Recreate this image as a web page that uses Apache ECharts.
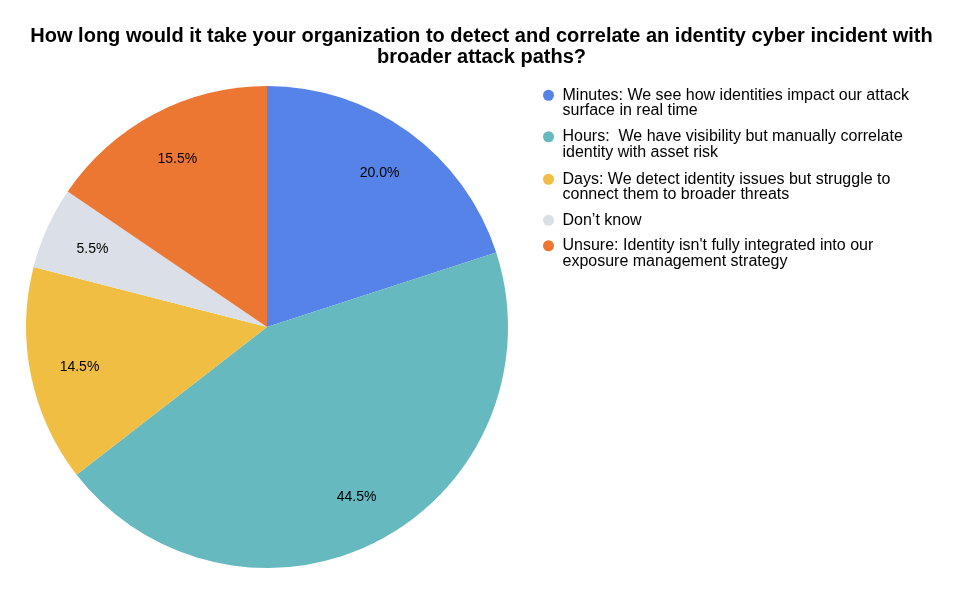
<!DOCTYPE html>
<html>
<head>
<meta charset="utf-8">
<script src="https://cdn.jsdelivr.net/npm/echarts@6/dist/echarts.min.js"></script>
<style>
  html, body { margin: 0; padding: 0; background: #fff; }
  #chart { width: 963px; height: 589px; }
</style>
</head>
<body>
<div id="chart"></div>
<script>
var titleText = 'How long would it take your organization to detect and correlate an identity cyber incident with\nbroader attack paths?';

var categories = [
    'Minutes: We see how identities impact our attack\nsurface in real time',
    'Hours:  We have visibility but manually correlate\nidentity with asset risk',
    'Days: We detect identity issues but struggle to\nconnect them to broader threats',
    'Don\u2019t know',
    'Unsure: Identity isn\'t fully integrated into our\nexposure management strategy'
];
var shares = [20.0, 44.5, 14.5, 5.5, 15.5];
var colors = ['#5583e8', '#67b9c0', '#f0be42', '#dbdfe7', '#ec7733'];

// vertical centre of the first text line of each legend entry, px
var legendRows = [95, 136.5, 179, 220, 245.5];

var font = '"Liberation Sans", Arial, sans-serif';
var LH = 15.5;

var pieData = categories.map(function (name, i) {
    return { name: name, value: shares[i], itemStyle: { color: colors[i] } };
});

// one legend per entry so the dot lines up with the first text line
var legends = categories.map(function (name, i) {
    var twoLines = name.indexOf('\n') >= 0;
    return {
        orient: 'vertical',
        left: 543,
        top: twoLines ? legendRows[i] - LH * 1.5 : legendRows[i] - LH / 2,
        padding: 0,
        icon: 'circle',
        itemWidth: 18,
        itemHeight: 11,
        itemGap: 0,
        selectedMode: false,
        data: [name],
        formatter: function (n) {
            // blank first line keeps the marker level with line one
            return n.indexOf('\n') >= 0 ? '\u00a0\n' + n : n;
        },
        textStyle: {
            fontFamily: font,
            fontSize: 16,
            lineHeight: LH,
            color: '#000'
        }
    };
});

var chart = echarts.init(document.getElementById('chart'));
chart.setOption({
    backgroundColor: '#fff',
    animation: false,
    title: {
        text: titleText,
        left: 'center',
        top: 21,
        textStyle: {
            fontFamily: font,
            fontSize: 20,
            fontWeight: 'bold',
            lineHeight: 21,
            color: '#000'
        }
    },
    legend: legends,
    series: [
        {
            type: 'pie',
            center: [267, 327],
            radius: [0, 241],
            startAngle: 90,
            clockwise: true,
            label: { show: false },
            labelLine: { show: false },
            emphasis: { disabled: true },
            data: pieData
        },
        {
            // label ring only: puts the % labels at ~0.78 of the radius
            type: 'pie',
            center: [267, 328],
            radius: [136, 241],
            startAngle: 90,
            clockwise: true,
            silent: true,
            legendHoverLink: false,
            itemStyle: { color: 'rgba(0,0,0,0)' },
            label: {
                show: true,
                position: 'inside',
                formatter: function (p) { return p.value.toFixed(1) + '%'; },
                fontFamily: font,
                fontSize: 14,
                color: '#000'
            },
            labelLine: { show: false },
            emphasis: { disabled: true },
            data: categories.map(function (name, i) {
                return { name: name, value: shares[i] };
            })
        }
    ]
});
</script>
</body>
</html>
